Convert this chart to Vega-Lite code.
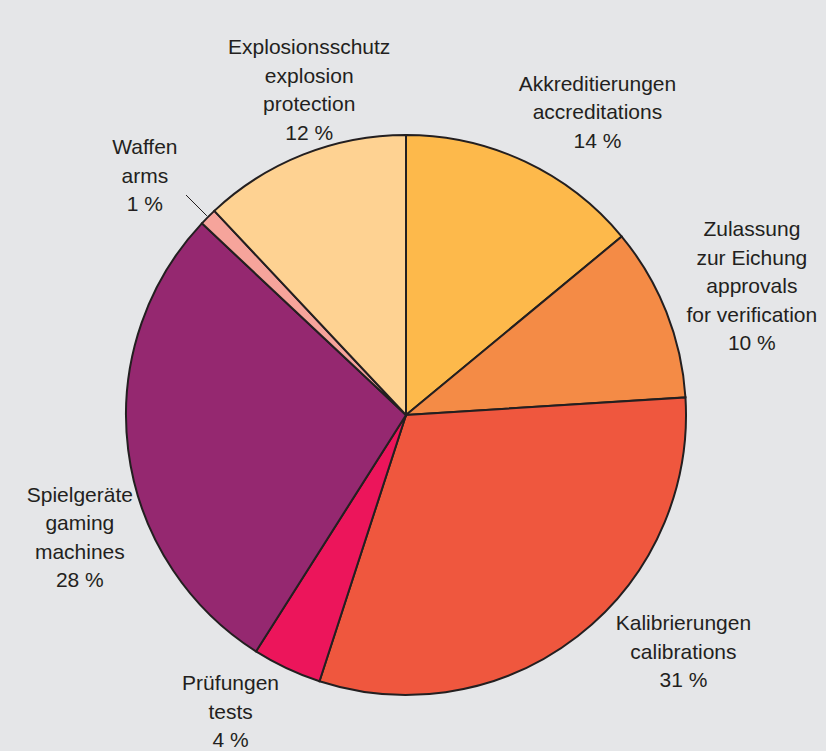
{
  "$schema": "https://vega.github.io/schema/vega-lite/v6.json",
  "width": 812,
  "height": 672,
  "autosize": {"type": "none"},
  "padding": {"left": 0, "top": 79, "right": 14, "bottom": 0},
  "background": "#e5e6e8",
  "config": {"view": {"stroke": null}},
  "data": {
    "values": [
      {"k": "Akkreditierungen", "label": "Akkreditierungen\naccreditations\n14 %", "value": 14, "order": 1},
      {"k": "Zulassung", "label": "Zulassung\nzur Eichung\napprovals\nfor verification\n10 %", "value": 10, "order": 2},
      {"k": "Kalibrierungen", "label": "Kalibrierungen\ncalibrations\n31 %", "value": 31, "order": 3},
      {"k": "Prüfungen", "label": "Prüfungen\ntests\n4 %", "value": 4, "order": 4},
      {"k": "Spielgeräte", "label": "Spielgeräte\ngaming\nmachines\n28 %", "value": 28, "order": 5},
      {"k": "Waffen", "label": "Waffen\narms\n1 %", "value": 1, "order": 6},
      {"k": "Explosionsschutz", "label": "Explosionsschutz\nexplosion\nprotection\n12 %", "value": 12, "order": 7}
    ]
  },
  "encoding": {
    "theta": {"field": "value", "type": "quantitative", "stack": true},
    "order": {"field": "order", "type": "quantitative"},
    "detail": {"field": "k", "type": "nominal"}
  },
  "layer": [
    {
      "mark": {"type": "arc", "outerRadius": 280, "stroke": "#231f20", "strokeWidth": 2},
      "encoding": {
        "color": {
          "field": "k",
          "type": "nominal",
          "legend": null,
          "scale": {
            "domain": ["Akkreditierungen", "Zulassung", "Kalibrierungen", "Prüfungen", "Spielgeräte", "Waffen", "Explosionsschutz"],
            "range": ["#fdb94b", "#f48b46", "#ef573e", "#ec155b", "#952870", "#f6a49b", "#fed292"]
          }
        }
      }
    },
    {
      "mark": {"type": "arc", "innerRadius": 282, "outerRadius": 311, "padAngle": 0.3, "fill": "#000000", "fillOpacity": 0, "stroke": "#231f20", "strokeWidth": 1},
      "encoding": {
        "strokeOpacity": {"condition": {"test": "datum.k === 'Waffen'", "value": 1}, "value": 0}
      }
    },
    {
      "mark": {
        "type": "text",
        "radius": 358,
        "font": "Liberation Sans",
        "fontSize": 21,
        "lineBreak": "\n",
        "lineHeight": 28.5,
        "align": "center",
        "baseline": "middle",
        "fill": "#231f20",
        "dx": {"expr": "datum.k==='Akkreditierungen'?39:datum.k==='Zulassung'?13:datum.k==='Kalibrierungen'?58:datum.k==='Prüfungen'?-23:datum.k==='Spielgeräte'?29:datum.k==='Waffen'?-8:35"},
        "dy": {"expr": "datum.k==='Akkreditierungen'?-6.5:datum.k==='Zulassung'?-53:datum.k==='Kalibrierungen'?-73.5:datum.k==='Prüfungen'?-54.5:datum.k==='Spielgeräte'?36:datum.k==='Waffen'?-13.5:-34"}
      },
      "encoding": {"text": {"field": "label", "type": "nominal"}}
    }
  ]
}
